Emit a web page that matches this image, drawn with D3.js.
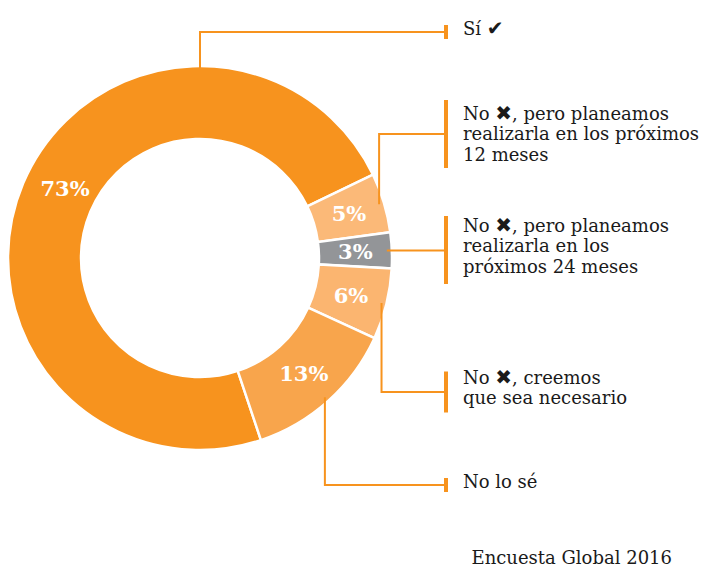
<!DOCTYPE html>
<html>
<head>
<meta charset="utf-8">
<script src="https://cdn.jsdelivr.net/npm/d3@7"></script>
<style>
  body { margin: 0; background: #fff; }
  text { font-family: "DejaVu Serif", serif; }
</style>
</head>
<body>
<div id="chart"></div>
<script>
// datos de la encuesta
const values = [73, 5, 3, 6, 13];
const pctLabels = ["73%", "5%", "3%", "6%", "13%"];
const labelLines = [
  ["Sí ✔"],
  ["No ✖, pero planeamos", "realizarla en los próximos", "12 meses"],
  ["No ✖, pero planeamos", "realizarla en los", "próximos 24 meses"],
  ["No ✖, creemos", "que sea necesario"],
  ["No lo sé"]
];
const colors = ["#F7931E", "#FBB978", "#939598", "#FBB570", "#F8A54C"];
const source = "Encuesta Global 2016";

// layout
const width = 702, height = 568;
const cx = 200, cy = 258;
const outerR = 192, innerR = 119;
const calloutY = [32, 134, 250, 392, 485];
const textShift = [-3, 0, -4, -4, -3];
const barX = 446, textX = 463, lineH = 20.5;
const accent = "#F7931E";

const svg = d3.select("#chart").append("svg")
  .attr("width", width).attr("height", height);

const g = svg.append("g").attr("transform", `translate(${cx},${cy})`);

const startA = (161.5 / 180) * Math.PI;
const pie = d3.pie().sort(null).startAngle(startA).endAngle(startA + 2 * Math.PI);
const arcs = pie(values);

const arc = d3.arc().innerRadius(innerR).outerRadius(outerR);

g.selectAll("path.slice")
  .data(arcs)
  .enter().append("path")
  .attr("class", "slice")
  .attr("d", arc)
  .attr("fill", (d, i) => colors[i])
  .attr("stroke", "#fff")
  .attr("stroke-width", 2.5);

// porcentajes
g.selectAll("text.pct")
  .data(arcs)
  .enter().append("text")
  .attr("class", "pct")
  .attr("transform", function (d, i) {
    var a = (d.startAngle + d.endAngle) / 2;
    var r = (innerR + outerR) / 2;
    if (i == 0) { a += 4.5 * Math.PI / 180; r = 152; }
    return `translate(${r * Math.sin(a)},${-r * Math.cos(a)})`;
  })
  .attr("text-anchor", "middle")
  .attr("dy", "0.36em")
  .attr("fill", "#fff")
  .attr("font-weight", "bold")
  .attr("font-size", "21px")
  .text((d, i) => pctLabels[i]);

// lineas guia + etiquetas
const leaderR = 187;
arcs.forEach(function (d, i) {
  var a = (i == 0) ? 2 * Math.PI : (d.startAngle + d.endAngle) / 2;
  var sx = cx + leaderR * Math.sin(a);
  var sy = cy - leaderR * Math.cos(a);
  var ly = calloutY[i];
  if (i == 2) ly = sy;
  svg.append("path")
    .attr("d", d3.line()([[sx, sy], [sx, ly], [barX, ly]]))
    .attr("fill", "none")
    .attr("stroke", accent)
    .attr("stroke-width", 2);

  var n = labelLines[i].length;
  var bh = 27 * n - 13;
  svg.append("rect")
    .attr("x", barX - 2).attr("y", calloutY[i] - bh / 2)
    .attr("width", 4).attr("height", bh)
    .attr("fill", accent);

  var t = svg.append("text")
    .attr("x", textX)
    .attr("y", calloutY[i] - (n - 1) * lineH / 2 + 6 + textShift[i])
    .attr("font-size", "18px")
    .attr("fill", "#1a1a1a");
  labelLines[i].forEach(function (line, j) {
    var ts = t.append("tspan")
      .attr("x", textX)
      .attr("dy", j == 0 ? 0 : lineH);
    // simbolos un poco mas grandes
    line.split(/([✔✖])/).forEach(function (part) {
      if (!part) return;
      var s = ts.append("tspan").text(part);
      if (part == "✔" || part == "✖") {
        s.attr("font-family", "DejaVu Sans").attr("font-size", "20px");
      }
    });
  });
});

svg.append("text")
  .attr("x", 672).attr("y", 564)
  .attr("text-anchor", "end")
  .attr("font-size", "18px")
  .attr("fill", "#1a1a1a")
  .text(source);
</script>
</body>
</html>
